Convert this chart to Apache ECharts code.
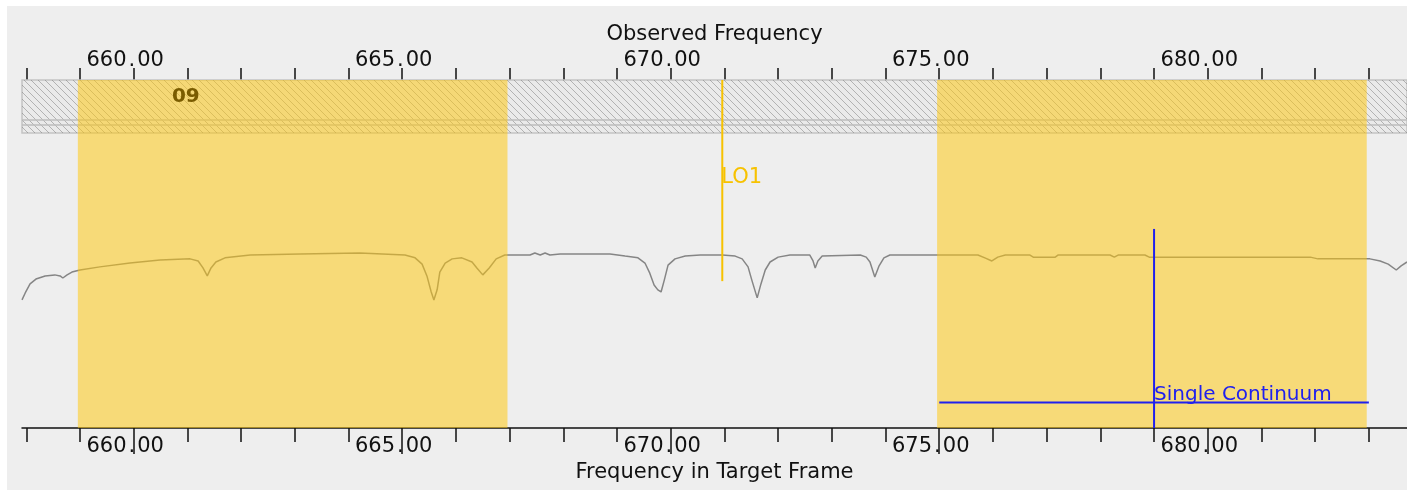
<!DOCTYPE html>
<html lang="en">
<head>
<meta charset="UTF-8">
<title>Spectral setup</title>
<style>
  * { margin: 0; padding: 0; }
  body { background: #ffffff; }
  #chart { width: 1407px; height: 490px; }
</style>
</head>
<body>
<div id="chart"></div>
<script src="https://cdn.jsdelivr.net/npm/echarts@6/dist/echarts.min.js"></script>
<script>
// atmospheric transmission curve (GHz, %)
var freqs = [657.92, 657.98, 658.07, 658.18, 658.35, 658.53, 658.63, 658.68, 658.76, 658.85,
  659.00, 659.37, 659.93, 660.49, 661.05, 661.20, 661.29, 661.37, 661.44, 661.53,
  661.70, 662.17, 663.10, 664.21, 665.05, 665.24, 665.37, 665.46, 665.54, 665.59,
  665.65, 665.70, 665.80, 665.93, 666.11, 666.30, 666.39, 666.50, 666.62, 666.75,
  666.91, 667.38, 667.47, 667.57, 667.66, 667.75, 667.94, 668.87, 669.15, 669.39,
  669.52, 669.61, 669.69, 669.76, 669.82, 669.88, 669.95, 670.08, 670.27, 670.55,
  670.96, 671.20, 671.33, 671.44, 671.51, 671.61, 671.68, 671.76, 671.85, 672.00,
  672.22, 672.59, 672.65, 672.69, 672.74, 672.82, 673.53, 673.64, 673.71, 673.80,
  673.88, 673.97, 674.08, 675.39, 675.72, 675.85, 675.98, 676.09, 676.23, 676.69,
  676.75, 677.16, 677.21, 678.18, 678.26, 678.33, 678.83, 678.91, 679.11, 681.91,
  682.05, 683.02, 683.21, 683.36, 683.51, 683.60, 683.71];
var trans = [36.8, 38.8, 41.4, 42.8, 43.7, 44.0, 43.7, 43.1, 44.0, 44.8,
  45.4, 46.3, 47.4, 48.3, 48.6, 48.0, 46.0, 43.7, 46.0, 47.7,
  48.9, 49.7, 50.0, 50.3, 49.7, 48.9, 47.1, 43.7, 39.1, 36.8,
  39.7, 44.8, 47.4, 48.6, 48.9, 47.7, 46.0, 44.0, 46.0, 48.6,
  49.7, 49.7, 50.3, 49.7, 50.3, 49.7, 50.0, 50.0, 49.4, 48.9,
  47.4, 44.5, 41.1, 39.7, 39.1, 42.5, 46.8, 48.6, 49.4, 49.7,
  49.7, 49.4, 48.6, 46.3, 42.5, 37.4, 41.4, 45.4, 47.7, 49.1,
  49.7, 49.7, 48.0, 46.0, 48.0, 49.4, 49.7, 49.1, 47.7, 43.4,
  46.6, 48.9, 49.7, 49.7, 49.7, 48.9, 48.0, 49.1, 49.7, 49.7,
  49.1, 49.1, 49.7, 49.7, 49.1, 49.7, 49.7, 49.1, 49.1, 49.1,
  48.6, 48.6, 48.0, 47.1, 45.4, 46.6, 47.7];

// spectral windows (GHz)
var spwStart = [658.96, 674.96];
var spwEnd = [666.96, 682.96];
var spwName = ['09', ''];
var spwNameFreq = [660.97, null];

var lo1Freq = 670.96;
var lo1Bottom = 42.2;

var contFreq = 679.0;
var contLow = 675.0;
var contHigh = 683.0;
var contTop = 57.2;
var contLevel = 7.3;

var tickValues = [];
for (var t = 658; t <= 683; t++) tickValues.push(t);
var labelValues = [660, 665, 670, 675, 680];

var fMin = 657.92, fMax = 683.71;

var chart = echarts.init(document.getElementById('chart'));

function hatchCanvas() {
  var c = document.createElement('canvas');
  c.width = 7; c.height = 7;
  var g = c.getContext('2d');
  g.strokeStyle = 'rgba(110,110,110,0.45)';
  g.lineWidth = 1;
  g.beginPath();
  g.moveTo(-1, -1); g.lineTo(8, 8);
  g.moveTo(-1, 6); g.lineTo(1, 8);
  g.moveTo(6, -1); g.lineTo(8, 1);
  g.stroke();
  return c;
}
var hatch = hatchCanvas();

var lineData = freqs.map(function (f, i) { return [f, trans[i]]; });
var spwData = spwStart.map(function (s, i) { return [s, spwEnd[i], spwNameFreq[i]]; });

var font = 'DejaVu Sans';
function fmtLabel(v) {
  var p = v.toFixed(2).split('.');
  return '{n|' + p[0] + '}{p|.}{n|' + p[1] + '}';
}
var labelRich = {
  n: { fontSize: 21, fontFamily: font, color: '#111' },
  p: { fontSize: 21, fontFamily: font, color: '#111', padding: [0, 2, 0, 2] }
};

chart.setOption({
  backgroundColor: '#ffffff',
  animation: false,
  graphic: [{
    type: 'rect', left: 7, top: 6, z: -10,
    shape: { width: 1400, height: 484 },
    style: { fill: '#eeeeee' }
  }],
  grid: { left: 22, right: 0, top: 80, bottom: 62, containLabel: false, outerBoundsMode: 'none' },
  xAxis: [{
    type: 'value', position: 'bottom', min: fMin, max: fMax,
    name: 'Frequency in Target Frame', nameLocation: 'middle', nameGap: 34,
    nameTextStyle: { fontSize: 21, fontFamily: font, color: '#111' },
    axisLine: { show: true, lineStyle: { color: '#111', width: 1.5 } },
    axisTick: { show: true, customValues: tickValues, length: 14, lineStyle: { color: '#111', width: 1.5 } },
    axisLabel: { customValues: labelValues, formatter: fmtLabel, rich: labelRich, margin: 8,
      align: 'center', padding: [0, 17, 0, 0] },
    splitLine: { show: false }
  }, {
    type: 'value', position: 'top', min: fMin, max: fMax,
    name: 'Observed Frequency', nameLocation: 'middle', nameGap: 35,
    nameTextStyle: { fontSize: 21, fontFamily: font, color: '#111' },
    axisLine: { show: false },
    axisTick: { show: true, customValues: tickValues, length: 12, lineStyle: { color: '#111', width: 1.5 } },
    axisLabel: { customValues: labelValues, formatter: fmtLabel, rich: labelRich, margin: 9,
      align: 'center', padding: [0, 17, 0, 0] },
    splitLine: { show: false }
  }, {
    type: 'value', position: 'bottom', min: fMin, max: fMax,
    axisLine: { show: false },
    axisTick: { show: true, customValues: labelValues, length: 26, lineStyle: { color: '#111', width: 1.5 } },
    axisLabel: { show: false },
    splitLine: { show: false }
  }],
  yAxis: { type: 'value', min: 0, max: 100, show: false },
  series: [{
    // hatched band across the top
    type: 'custom', z: 1, silent: true,
    data: [[fMin]],
    renderItem: function (params, api) {
      var cs = params.coordSys;
      var top = cs.y, h = 53;
      return {
        type: 'group', children: [
          { type: 'rect', shape: { x: cs.x, y: top, width: cs.width, height: h },
            style: { fill: '#eaeaea', stroke: '#c4c4c4', lineWidth: 1.5 } },
          { type: 'rect', shape: { x: cs.x, y: top, width: cs.width, height: h },
            style: { fill: { image: hatch, repeat: 'repeat' } } },
          { type: 'line', shape: { x1: cs.x, y1: top + 40, x2: cs.x + cs.width, y2: top + 40 },
            style: { stroke: '#bdbdbd', lineWidth: 1.5 } },
          { type: 'line', shape: { x1: cs.x, y1: top + 45, x2: cs.x + cs.width, y2: top + 45 },
            style: { stroke: '#bdbdbd', lineWidth: 1.5 } }
        ]
      };
    }
  }, {
    type: 'line', z: 2, data: lineData, showSymbol: false, silent: true,
    lineStyle: { color: '#858585', width: 1.5 }
  }, {
    // spectral windows
    type: 'custom', z: 3, silent: true, data: spwData,
    renderItem: function (params, api) {
      var p0 = api.coord([api.value(0), 100]);
      var p1 = api.coord([api.value(1), 0]);
      var kids = [{ type: 'rect', shape: { x: p0[0], y: p0[1], width: p1[0] - p0[0], height: p1[1] - p0[1] },
        style: { fill: 'rgba(255,200,15,0.53)' } }];
      var name = spwName[params.dataIndex];
      if (name) {
        var pl = api.coord([spwNameFreq[params.dataIndex], 100]);
        kids.push({ type: 'text', style: { text: name, x: pl[0], y: pl[1] + 17,
          fill: '#7a5c00', font: 'bold 20px ' + font, align: 'center', verticalAlign: 'middle' } });
      }
      return { type: 'group', children: kids };
    }
  }, {
    // LO1 and continuum markers
    type: 'custom', z: 5, silent: true, data: [[lo1Freq]],
    renderItem: function (params, api) {
      var a = api.coord([lo1Freq, 100]);
      var b = api.coord([lo1Freq, lo1Bottom]);
      var c0 = api.coord([contFreq, contTop]);
      var c1 = api.coord([contFreq, 0]);
      var h0 = api.coord([contLow, contLevel]);
      var h1 = api.coord([contHigh, contLevel]);
      return {
        type: 'group', children: [
          { type: 'line', shape: { x1: a[0], y1: a[1], x2: b[0], y2: b[1] },
            style: { stroke: '#f7c200', lineWidth: 2 } },
          { type: 'text', style: { text: 'LO1', x: a[0] - 1, y: (a[1] + b[1]) / 2 - 3,
            fill: '#f7c200', font: '21px ' + font, align: 'left', verticalAlign: 'middle' } },
          { type: 'line', shape: { x1: c0[0], y1: c0[1], x2: c1[0], y2: c1[1] },
            style: { stroke: '#2020ee', lineWidth: 2 } },
          { type: 'line', shape: { x1: h0[0], y1: h0[1], x2: h1[0], y2: h1[1] },
            style: { stroke: '#2020ee', lineWidth: 2 } },
          { type: 'text', style: { text: 'Single Continuum', x: c0[0], y: h0[1] + 2,
            fill: '#2020ee', font: '20px ' + font, align: 'left', verticalAlign: 'bottom' } }
        ]
      };
    }
  }]
});
</script>
</body>
</html>
